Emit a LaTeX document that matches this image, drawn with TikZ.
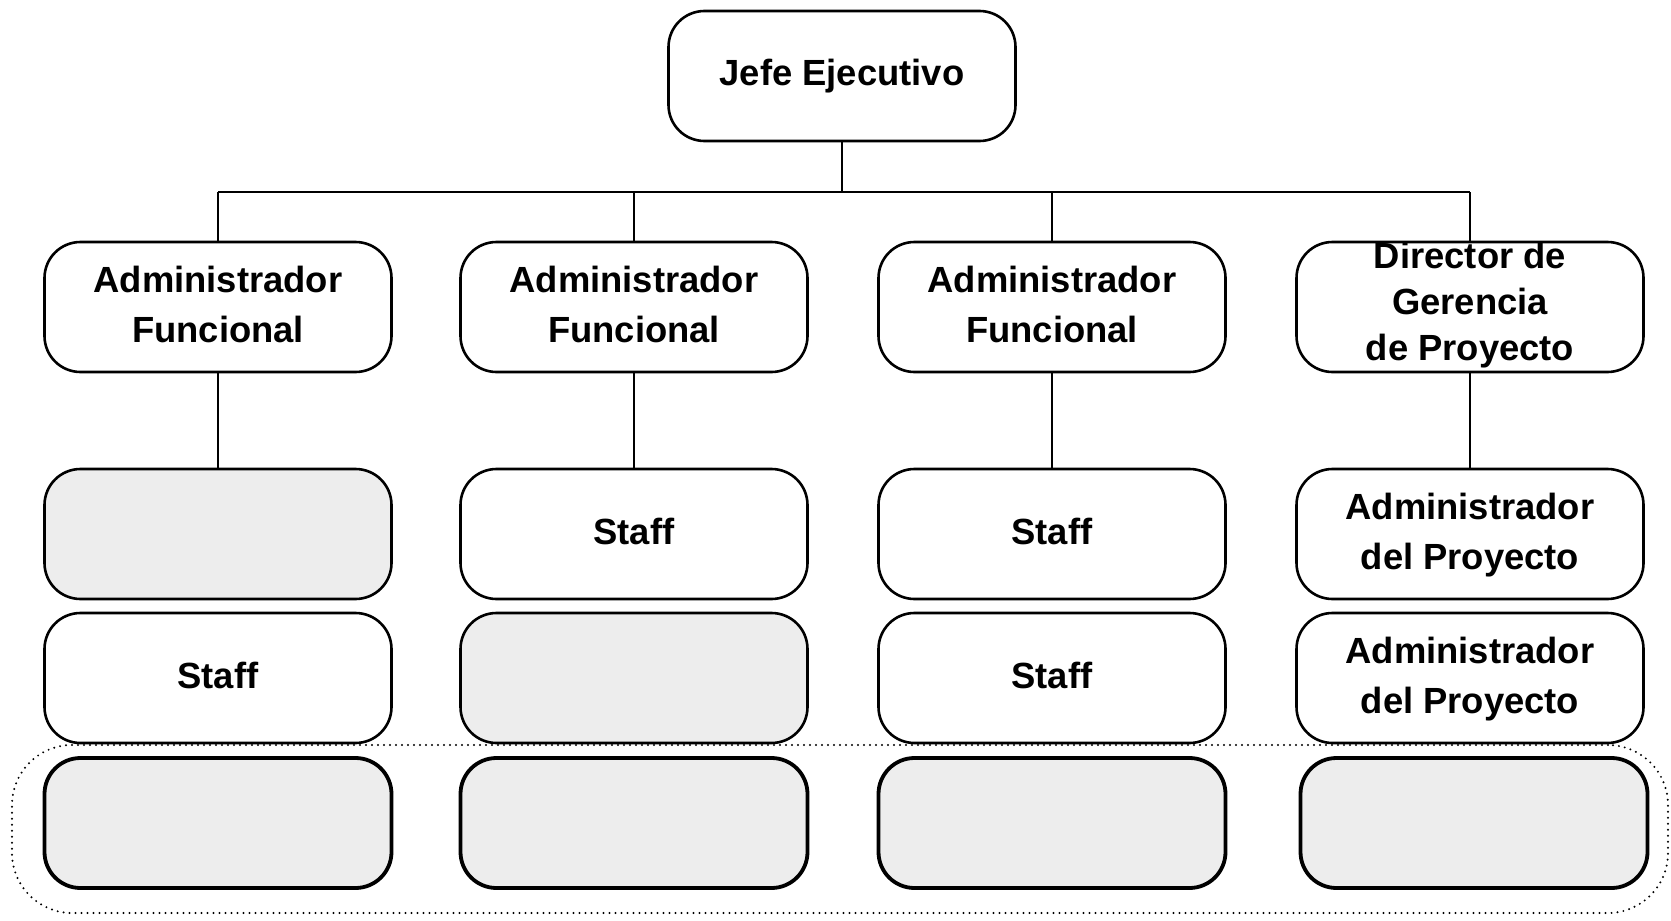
\documentclass[tikz,border=0pt]{standalone}
\usepackage{fontspec}
\setmainfont{Liberation Sans}
% box text, set slightly above the box centre
\newcommand\boxtext[2][2pt]{\raisebox{#1}{\begin{tabular}{@{}c@{}}#2\end{tabular}}}
\begin{document}
\begin{tikzpicture}[x=0.5pt,y=-0.5pt,
  box/.style={draw, line width=1.3pt, rounded corners=18pt,
    minimum width=173.5pt, minimum height=65pt, inner sep=0pt,
    align=center, font=\fontsize{18.2}{25}\selectfont\bfseries},
  shaded/.style={fill=black!7},
  heavy/.style={line width=1.9pt},
  link/.style={line width=1pt},
  group/.style={draw, line width=1.1pt, dash pattern=on 0pt off 3pt,
    line cap=round, rounded corners=30pt, minimum width=828pt,
    minimum height=84pt, inner sep=0pt}]
\useasboundingbox (0,0) rectangle (1671,921);

% top of the hierarchy
\node[box] (jefe) at (842,76) {\boxtext[3.5pt]{Jefe Ejecutivo}};

% first level
\node[box] (f1) at (218,307) {\boxtext[2.5pt]{Administrador\\Funcional}};
\node[box] (f2) at (634,307) {\boxtext[2.5pt]{Administrador\\Funcional}};
\node[box] (f3) at (1052,307) {\boxtext[2.5pt]{Administrador\\Funcional}};
\node[box, font=\fontsize{18.2}{23}\selectfont\bfseries] (dir) at (1470,307)
  {\smash{\boxtext[-3.5pt]{Director de\\Gerencia\\de Proyecto}}};

% second level
\node[box, shaded] (s1) at (218,534) {};
\node[box] (s2) at (634,534) {\boxtext[2.5pt]{Staff}};
\node[box] (s3) at (1052,534) {\boxtext[2.5pt]{Staff}};
\node[box] (p1) at (1470,534) {\boxtext[2pt]{Administrador\\del Proyecto}};

% third level
\node[box] (t1) at (218,678) {\boxtext[2.5pt]{Staff}};
\node[box, shaded] (t2) at (634,678) {};
\node[box] (t3) at (1052,678) {\boxtext[2.5pt]{Staff}};
\node[box] (p2) at (1470,678) {\boxtext[2.5pt]{Administrador\\del Proyecto}};

% fourth level, grouped
\node[group] (grp) at (840,829) {};
\node[box, shaded, heavy] (u1) at (218,823) {};
\node[box, shaded, heavy] (u2) at (634,823) {};
\node[box, shaded, heavy] (u3) at (1052,823) {};
\node[box, shaded, heavy] (u4) at (1474,823) {};

% connectors
\coordinate (busL) at (218,192);
\coordinate (busR) at (1470,192);
\draw[link] (jefe.south) -- (jefe.south |- busL);
\draw[link] (busL) -- (busR);
\draw[link] (busL) -- (f1.north);
\draw[link] (f2.north |- busL) -- (f2.north);
\draw[link] (f3.north |- busL) -- (f3.north);
\draw[link] (busR) -- (dir.north);
\draw[link] (f1.south) -- (s1.north);
\draw[link] (f2.south) -- (s2.north);
\draw[link] (f3.south) -- (s3.north);
\draw[link] (dir.south) -- (p1.north);
\end{tikzpicture}
\end{document}
